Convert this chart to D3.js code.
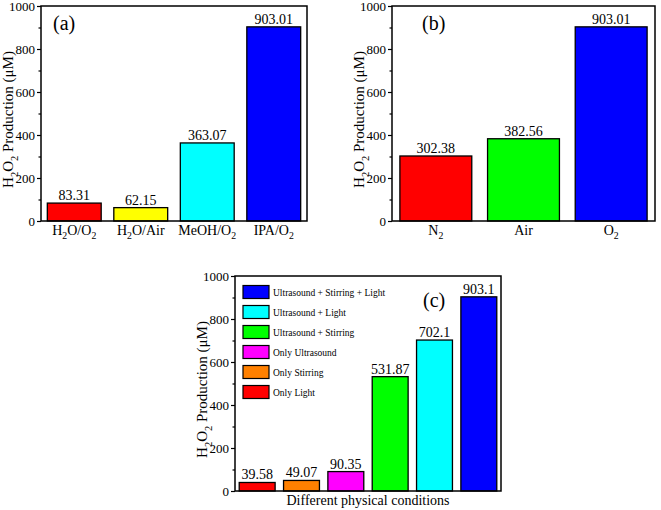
<!DOCTYPE html>
<html><head><meta charset="utf-8">
<script src="https://cdn.jsdelivr.net/npm/d3@7"></script>
<style>body{margin:0;background:#fff}svg{display:block}svg text{font-family:"Liberation Serif","Times New Roman",serif}</style>
</head><body>
<svg id="c" width="661" height="510"></svg>
<script>
const catsA = ["H2O/O2", "H2O/Air", "MeOH/O2", "IPA/O2"];
const valsA = [83.31, 62.15, 363.07, 903.01];
const labelsA = ["83.31", "62.15", "363.07", "903.01"];
const colorsA = ["#ff0000", "#ffff00", "#00ffff", "#0000ff"];

const catsB = ["N2", "Air", "O2"];
const valsB = [302.38, 382.56, 903.01];
const labelsB = ["302.38", "382.56", "903.01"];
const colorsB = ["#ff0000", "#00ff00", "#0000ff"];

const catsC = ["Only Light", "Only Stirring", "Only Ultrasound", "Ultrasound + Stirring", "Ultrasound + Light", "Ultrasound + Stirring + Light"];
const valsC = [39.58, 49.07, 90.35, 531.87, 702.1, 903.1];
const labelsC = ["39.58", "49.07", "90.35", "531.87", "702.1", "903.1"];
const colorsC = ["#ff0000", "#ff8000", "#ff00ff", "#00ff00", "#00ffff", "#0000ff"];

const yTicks = [0, 200, 400, 600, 800, 1000];
const yMinor = [100, 300, 500, 700, 900];

const FONT = "Liberation Serif, Times New Roman, serif";
const svg = d3.select("#c");

function subText(sel, str, size) {
  const parts = str.match(/[A-Za-z\/ ()μ]+|\d+/g);
  const shift = size * 0.3;
  let prevSub = false;
  parts.forEach(p => {
    const isSub = /^\d+$/.test(p);
    const t = sel.append("tspan").attr("font-size", isSub ? size * 0.7 : size).text(p);
    if (isSub) t.attr("dy", shift);
    else if (prevSub) t.attr("dy", -shift);
    prevSub = isSub;
  });
}

function yTitle(g, x, y) {
  const t = g.append("text").attr("transform", `translate(${x},${y}) rotate(-90)`)
    .attr("text-anchor", "middle").attr("font-size", 15).attr("font-family", FONT);
  subText(t, "H2O2 Production (μM)", 15);
}

function panel(o) {
  const g = svg.append("g");
  const x = d3.scaleBand().domain(o.cats).range([o.x0, o.x1]).paddingInner(o.pad).paddingOuter(o.pad / 2);
  const y = d3.scaleLinear().domain([0, 1000]).range([o.y1, o.y0]);
  const idx = o.cats.map((c, i) => i);
  g.selectAll("rect.bar").data(idx).join("rect")
    .attr("x", i => x(o.cats[i])).attr("width", x.bandwidth())
    .attr("y", i => y(o.vals[i])).attr("height", i => y(0) - y(o.vals[i]))
    .attr("fill", i => o.colors[i]).attr("stroke", "#000").attr("stroke-width", 1.3);
  g.selectAll("text.val").data(idx).join("text")
    .attr("x", i => x(o.cats[i]) + x.bandwidth() / 2).attr("y", i => y(o.vals[i]) - 3)
    .attr("text-anchor", "middle").attr("font-size", 14).attr("font-family", FONT).text(i => o.labels[i]);
  const ya = g.append("g").attr("transform", `translate(${o.x0},0)`)
    .call(d3.axisLeft(y).tickValues(yTicks).tickFormat(d3.format("d")).tickSize(4).tickSizeOuter(0).tickPadding(2));
  ya.attr("font-family", FONT).attr("font-size", 13);
  ya.select(".domain").remove();
  ya.selectAll("text").attr("fill", "#000").attr("font-size", 13);
  ya.selectAll("line").attr("stroke-width", 1.2);
  const ym = g.append("g").attr("transform", `translate(${o.x0},0)`)
    .call(d3.axisLeft(y).tickValues(yMinor).tickSize(2.5).tickFormat(""));
  ym.select(".domain").remove();
  ym.selectAll("text").remove();
  ym.selectAll("line").attr("stroke-width", 1.2);
  g.append("rect").attr("x", o.x0).attr("y", o.y0).attr("width", o.x1 - o.x0).attr("height", o.y1 - o.y0)
    .attr("fill", "none").attr("stroke", "#000").attr("stroke-width", 1.5);
  if (o.xlabels) {
    o.cats.forEach(c => {
      const t = g.append("text").attr("x", x(c) + x.bandwidth() / 2).attr("y", o.y1 + 14)
        .attr("text-anchor", "middle").attr("font-size", 14).attr("font-family", FONT);
      subText(t, c, 14);
    });
  }
  g.append("text").attr("x", o.tagX).attr("y", o.tagY).attr("font-size", 20).attr("font-family", FONT).text(o.tag);
  yTitle(g, o.titleX, (o.y0 + o.y1) / 2 + 6);
  return {g, x, y};
}

panel({cats: catsA, vals: valsA, labels: labelsA, colors: colorsA, x0: 41, x1: 307, y0: 6, y1: 221,
  pad: 0.19, xlabels: true, tag: "(a)", tagX: 53, tagY: 30, titleX: 13});
panel({cats: catsB, vals: valsB, labels: labelsB, colors: colorsB, x0: 392, x1: 655, y0: 6, y1: 221,
  pad: 0.18, xlabels: true, tag: "(b)", tagX: 422, tagY: 30, titleX: 364});
panel({cats: catsC, vals: valsC, labels: labelsC, colors: colorsC, x0: 235, x1: 501, y0: 276, y1: 491,
  pad: 0.19, xlabels: false, tag: "(c)", tagX: 423, tagY: 307, titleX: 207});

svg.append("text").attr("x", 368).attr("y", 505).attr("text-anchor", "middle").attr("font-size", 14)
  .attr("font-family", FONT).text("Different physical conditions");

const leg = svg.append("g");
const legOrder = d3.range(catsC.length).reverse();
legOrder.forEach((i, k) => {
  const cy = 292 + k * 20;
  leg.append("rect").attr("x", 243).attr("y", cy - 6.5).attr("width", 26).attr("height", 13)
    .attr("fill", colorsC[i]).attr("stroke", "#000").attr("stroke-width", 1.2);
  leg.append("text").attr("x", 273).attr("y", cy + 3.5).attr("font-size", 9.5).attr("font-family", FONT).text(catsC[i]);
});
</script>
</body></html>
